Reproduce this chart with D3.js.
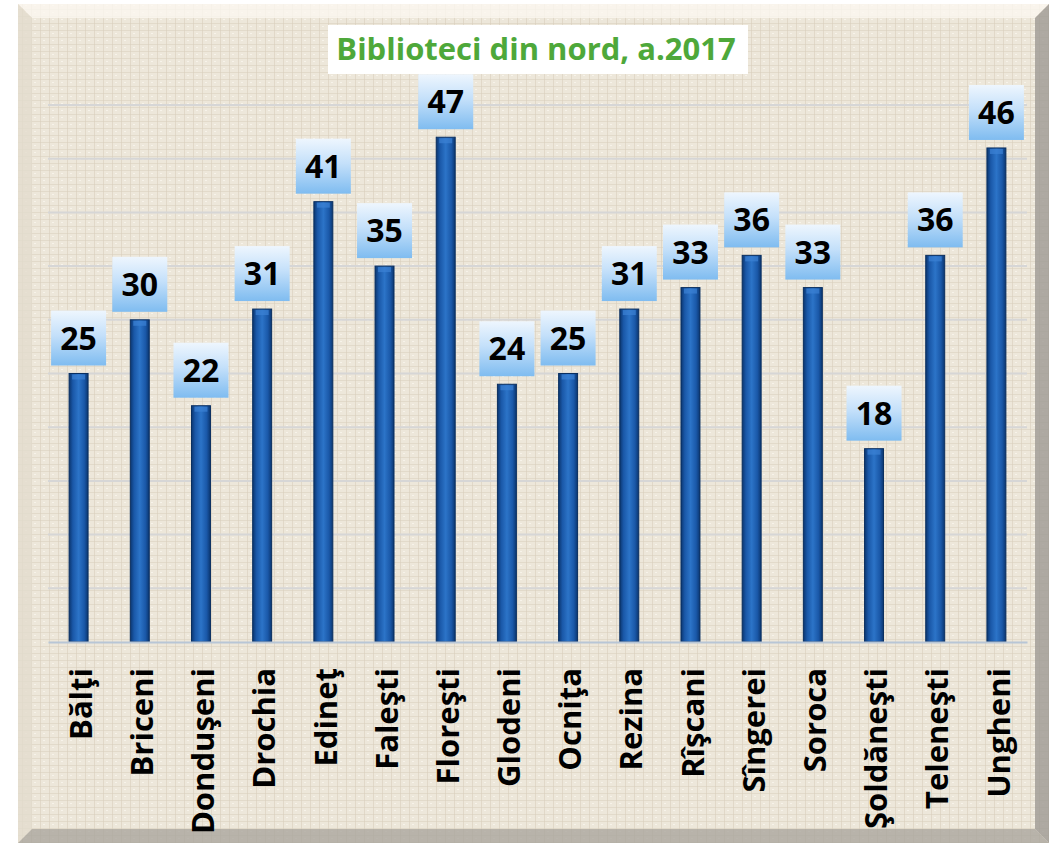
<!DOCTYPE html>
<html>
<head>
    <meta charset="utf-8">
    <title>Biblioteci din nord, a.2017</title>
    <style>
        body { margin: 0; background: #ffffff; }
        svg { display: block; }
        .cat { font-family: "Open Sans", Lato, sans-serif; font-weight: bold; font-size: 31px; fill: #000; }
        .val { font-family: "Open Sans", Lato, sans-serif; font-weight: bold; font-size: 32px; fill: #000; }
        .title { font-family: "Open Sans", Lato, sans-serif; font-weight: bold; font-size: 31px; fill: #4ea83a; }
    </style>
    <script src="https://d3js.org/d3.v7.min.js"></script>
</head>
<body>
<script>
  // raioane din nord, numar de biblioteci
  var categories = ["B\u0103l\u0163i", "Briceni", "Dondu\u015feni", "Drochia", "Edine\u0163", "Fale\u015fti",
    "Flore\u015fti", "Glodeni", "Ocni\u0163a", "Rezina", "R\u00ee\u015fcani", "S\u00eengerei", "Soroca",
    "\u015eold\u0103ne\u015fti", "Telene\u015fti", "Ungheni"];
  var values = [25, 30, 22, 31, 41, 35, 47, 24, 25, 31, 33, 36, 33, 18, 36, 46];
  var yTicks = [5, 10, 15, 20, 25, 30, 35, 40, 45, 50];
  var title = "Biblioteci din nord, a.2017";

  var w = 1052, h = 847;
  var svg = d3.select("body").append("svg").attr("width", w).attr("height", h);
  var defs = svg.append("defs");

  // linen texture
  var pat = defs.append("pattern").attr("id", "linen").attr("patternUnits", "userSpaceOnUse")
                .attr("width", 9).attr("height", 7);
  pat.append("rect").attr("width", 9).attr("height", 7).attr("fill", "#ede7da");
  pat.append("rect").attr("x", 0).attr("y", 2).attr("width", 9).attr("height", 1).attr("fill", "#ddd5c4").attr("opacity", 0.7);
  pat.append("rect").attr("x", 4).attr("y", 0).attr("width", 1).attr("height", 7).attr("fill", "#d8cfbd").attr("opacity", 0.6);
  pat.append("rect").attr("x", 7).attr("y", 5).attr("width", 2).attr("height", 1).attr("fill", "#f7f3ea");

  var barGrad = defs.append("linearGradient").attr("id", "barGrad").attr("x1", 0).attr("x2", 1).attr("y1", 0).attr("y2", 0);
  [["0%", "#0b3670"], ["20%", "#1a58a8"], ["50%", "#2c74c8"], ["80%", "#1a58a8"], ["100%", "#0b3670"]].forEach(function (s) {
    barGrad.append("stop").attr("offset", s[0]).attr("stop-color", s[1]);
  });
  var boxGrad = defs.append("linearGradient").attr("id", "boxGrad").attr("x1", 0).attr("x2", 0).attr("y1", 0).attr("y2", 1);
  [["0%", "#eef6fe"], ["45%", "#c4e0fa"], ["100%", "#7fbcf0"]].forEach(function (s) {
    boxGrad.append("stop").attr("offset", s[0]).attr("stop-color", s[1]);
  });

  // frame
  var fx0 = 18, fy0 = 4, fx1 = 1049, fy1 = 843, bev = 14;
  svg.append("rect").attr("x", fx0).attr("y", fy0).attr("width", fx1 - fx0).attr("height", fy1 - fy0)
     .attr("fill", "url(#linen)");
  svg.append("polygon").attr("points", [[fx0, fy0], [fx1, fy0], [fx1 - bev, fy0 + bev], [fx0 + bev, fy0 + bev]].join(" "))
     .attr("fill", "#fbf8f0").attr("opacity", 0.8);
  svg.append("polygon").attr("points", [[fx0, fy0], [fx0 + bev, fy0 + bev], [fx0 + bev, fy1 - bev], [fx0, fy1]].join(" "))
     .attr("fill", "#e2dccd").attr("opacity", 0.8);
  svg.append("polygon").attr("points", [[fx1, fy0], [fx1, fy1], [fx1 - bev, fy1 - bev], [fx1 - bev, fy0 + bev]].join(" "))
     .attr("fill", "#9d9a93").attr("opacity", 0.8);
  svg.append("polygon").attr("points", [[fx0, fy1], [fx1, fy1], [fx1 - bev, fy1 - bev], [fx0 + bev, fy1 - bev]].join(" "))
     .attr("fill", "#aaa69d").attr("opacity", 0.8);

  var x = d3.scaleBand().domain(categories).range([48, 1027]).paddingInner(0.69).paddingOuter(0.345);
  var y = d3.scaleLinear().domain([0, 50]).range([642, 105]);

  // gridlines
  svg.append("g").selectAll("line").data(yTicks).enter().append("line")
     .attr("x1", 48).attr("x2", 1027)
     .attr("y1", function (d) { return y(d); }).attr("y2", function (d) { return y(d); })
     .attr("stroke", "#d6d6d6").attr("stroke-width", 2);

  // bars
  var bars = svg.append("g").selectAll("g").data(values).enter().append("g");
  bars.append("rect")
      .attr("x", function (d, i) { return x(categories[i]); })
      .attr("y", function (d) { return y(d); })
      .attr("width", x.bandwidth())
      .attr("height", function (d) { return y(0) - y(d); })
      .attr("fill", "url(#barGrad)")
      .attr("stroke", "#0a2f60").attr("stroke-width", 1);
  bars.append("rect")
      .attr("x", function (d, i) { return x(categories[i]) + 3; })
      .attr("y", function (d) { return y(d) + 1; })
      .attr("width", x.bandwidth() - 6)
      .attr("height", 5)
      .attr("fill", "#3c82d4").attr("opacity", 0.7);

  // baseline axis
  var xAxis = svg.append("g").attr("transform", "translate(0," + y(0) + ")")
                 .call(d3.axisBottom(x).tickSize(0).tickFormat(""));
  xAxis.select(".domain").attr("stroke", "#b8c6d6").attr("stroke-width", 2);

  // category labels
  svg.append("g").selectAll("text").data(categories).enter().append("text")
     .attr("class", "cat")
     .attr("transform", function (d) { return "translate(" + (x(d) + x.bandwidth() / 2 + 2) + ",668) rotate(-90)"; })
     .attr("text-anchor", "end")
     .attr("dy", "0.36em")
     .text(function (d) { return d; });

  // value labels
  var boxW = 55, boxH = 55;
  var lab = svg.append("g").selectAll("g").data(values).enter().append("g")
               .attr("transform", function (d, i) {
                 return "translate(" + (x(categories[i]) + x.bandwidth() / 2) + "," + (y(d) - 8 - boxH / 2) + ")";
               });
  lab.append("rect").attr("x", -boxW / 2).attr("y", -boxH / 2).attr("width", boxW).attr("height", boxH)
     .attr("fill", "url(#boxGrad)");
  lab.append("text").attr("class", "val").attr("text-anchor", "middle").attr("dy", "0.36em")
     .text(function (d) { return d; });

  // title
  svg.append("rect").attr("x", 328).attr("y", 25).attr("width", 420).attr("height", 49).attr("fill", "#ffffff");
  svg.append("text").attr("class", "title").attr("x", 536).attr("y", 49).attr("text-anchor", "middle")
     .attr("dy", "0.36em").text(title);
</script>
</body>
</html>
